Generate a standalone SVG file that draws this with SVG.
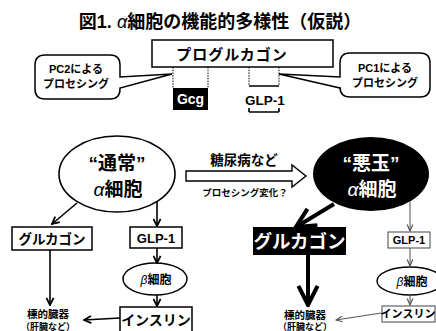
<svg xmlns="http://www.w3.org/2000/svg" width="436" height="331" viewBox="0 0 436 331">
<style>
text{font-family:"Liberation Sans","Noto Sans CJK JP",sans-serif;font-weight:bold;text-anchor:middle;fill:#000}
.w{fill:#fff}
.box{fill:#fff;stroke:#000;stroke-width:1.5}
.thin{fill:#fff;stroke:#444;stroke-width:1}
.dot{stroke:#000;stroke-width:1;stroke-dasharray:1.5 1.2;fill:none}
.ln{stroke:#000;stroke-width:1.6;fill:none}
.lt{stroke:#555;stroke-width:1;fill:none}
.lk{stroke:#000;stroke-width:4;fill:none}
</style>
<defs>
<marker id="a" viewBox="0 0 10 10" refX="9" refY="5" markerWidth="9" markerHeight="9" markerUnits="userSpaceOnUse" orient="auto"><path d="M1,1 L9,5 L1,9" fill="none" stroke="#000" stroke-width="2"/></marker>
<marker id="at" viewBox="0 0 10 10" refX="9" refY="5" markerWidth="8" markerHeight="8" markerUnits="userSpaceOnUse" orient="auto"><path d="M1,1.5 L9,5 L1,8.5" fill="none" stroke="#555" stroke-width="1.5"/></marker>
<marker id="ab" viewBox="0 0 10 10" refX="9" refY="5" markerWidth="24" markerHeight="24" markerUnits="userSpaceOnUse" orient="auto"><path d="M1,1 L9,5 L1,9" fill="none" stroke="#000" stroke-width="1.7"/></marker>
</defs>
<rect width="436" height="331" fill="#fff"/>
<text id="title" x="220" y="28" font-size="18">図1. <tspan font-style="italic" font-weight="normal">α</tspan>細胞の機能的多様性（仮説）</text>

<g id="proglucagon"><rect class="box" x="152" y="40" width="181" height="27"/><text x="232" y="60" font-size="15" letter-spacing="1">プログルカゴン</text></g>
<g id="pc2"><path class="box" d="M45,55 H110 Q120,55 120,65 V77 L172,74 L120,88 V89 Q120,99 110,99 H45 Q35,99 35,89 V65 Q35,55 45,55 Z"/><text x="76" y="73" font-size="11">PC2による</text><text x="76" y="88" font-size="11">プロセシング</text></g>
<g id="pc1"><path class="box" d="M350,53 H420 Q430,53 430,63 V87 Q430,97 420,97 H350 Q340,97 340,87 V88 L279,74 L340,77 V63 Q340,53 350,53 Z"/><text x="385" y="72" font-size="11">PC1による</text><text x="385" y="87" font-size="11">プロセシング</text></g>
<g id="gcg"><rect x="173" y="88" width="35" height="22" fill="#000"/><text class="w" x="190.5" y="104" font-size="14">Gcg</text></g>
<g id="glp1-top"><text x="265" y="105" font-size="13.5">GLP-1</text></g>

<g id="normal-alpha"><ellipse cx="117" cy="174" rx="58" ry="38" fill="#fff" stroke="#000" stroke-width="1.6"/><text x="117" y="170" font-size="19">“通常”</text><text x="118" y="196" font-size="19"><tspan font-style="italic" font-weight="normal">α</tspan>細胞</text></g>
<g id="bad-alpha"><ellipse cx="371" cy="174" rx="58" ry="37" fill="#000"/><text class="w" x="371" y="170" font-size="19">“悪玉”</text><text class="w" x="372" y="196" font-size="19"><tspan font-style="italic" font-weight="normal">α</tspan>細胞</text></g>
<g id="change"><polygon points="186,171 292,171 292,165 306,176 292,187 292,181 186,181" fill="#fff" stroke="#000" stroke-width="1.4"/><text x="244" y="165" font-size="13.5">糖尿病など</text><text x="245" y="196" font-size="9.5">プロセシング変化？</text></g>

<g id="glucagon-l"><rect class="box" x="12" y="227" width="80" height="23"/><text x="52" y="244" font-size="13.5">グルカゴン</text></g>
<g id="glp1-l"><rect class="box" x="130" y="227" width="52" height="21"/><text x="156" y="243" font-size="13">GLP-1</text></g>
<g id="beta-l"><ellipse cx="155" cy="279" rx="32" ry="16" fill="#fff" stroke="#000" stroke-width="1.5"/><text x="156" y="284" font-size="12"><tspan font-style="italic" font-weight="normal">β</tspan>細胞</text></g>
<g id="insulin-l"><rect class="box" x="120" y="307" width="72" height="26"/><text x="156" y="325" font-size="14">インスリン</text></g>
<g id="target-l"><text x="48" y="318" font-size="10.5">標的臓器</text><text x="48" y="329.5" font-size="9">（肝臓など）</text></g>

<g id="glucagon-r"><rect x="253" y="227" width="93" height="28" fill="#000"/><text class="w" x="299.5" y="248" font-size="18.5">グルカゴン</text></g>
<g id="glp1-r"><rect class="thin" x="388" y="232" width="42" height="16"/><text x="409" y="244" font-size="11">GLP-1</text></g>
<g id="beta-r"><ellipse cx="410" cy="281" rx="33" ry="14" fill="#fff" stroke="#000" stroke-width="1.4"/><text x="412" y="286" font-size="12"><tspan font-style="italic" font-weight="normal">β</tspan>細胞</text></g>
<g id="insulin-r"><rect class="thin" x="382" y="306" width="53" height="16"/><text x="408" y="318" font-size="11">インスリン</text></g>
<g id="target-r"><text x="305" y="319" font-size="10.5">標的臓器</text><text x="305" y="330" font-size="9">（肝臓など）</text></g>

<g id="connectors">
<path class="dot" d="M173,67 V88 M208,67 V88 M249,67 V86 M279,67 V86"/>
<path class="ln" stroke-width="1" d="M249,86 H279 M249,112 H279 M249,108 V112 M279,108 V112"/>
<line class="ln" x1="77" y1="203" x2="52" y2="224" marker-end="url(#a)"/>
<line class="ln" x1="157" y1="201" x2="157" y2="226" marker-end="url(#a)"/>
<line class="ln" x1="50" y1="250" x2="50" y2="305" marker-end="url(#a)"/>
<line class="ln" x1="157" y1="248" x2="157" y2="263" marker-end="url(#a)"/>
<line class="ln" x1="157" y1="295" x2="157" y2="306" marker-end="url(#a)"/>
<line class="ln" x1="120" y1="318" x2="84" y2="320" marker-end="url(#a)"/>
<line class="lk" x1="334" y1="204" x2="296" y2="227" marker-end="url(#ab)"/>
<line class="lk" x1="308" y1="255" x2="308" y2="305" marker-end="url(#ab)"/>
<line class="lt" x1="410" y1="201" x2="410" y2="231" marker-end="url(#at)"/>
<line class="lt" x1="410" y1="248" x2="410" y2="266" marker-end="url(#at)"/>
<line class="lt" x1="410" y1="295" x2="410" y2="305" marker-end="url(#at)"/>
<line class="lt" x1="381" y1="313" x2="336" y2="320" marker-end="url(#at)"/>
</g>
</svg>
